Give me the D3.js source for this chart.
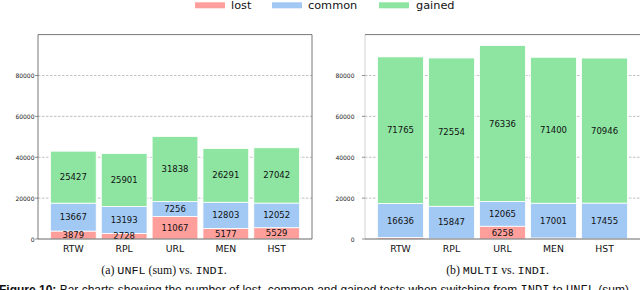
<!DOCTYPE html>
<html><head><meta charset="utf-8">
<script src="https://cdn.jsdelivr.net/npm/d3@7"></script>
<style>body{margin:0;background:#fff;overflow:hidden}svg{display:block}</style>
</head><body>
<svg id="c" width="640" height="290"></svg>
<script>
const categories = ["RTW", "RPL", "URL", "MEN", "HST"];
const seriesNames = ["lost", "common", "gained"];
const lostA = [3879, 2728, 11067, 5177, 5529];
const commonA = [13667, 13193, 7256, 12803, 12052];
const gainedA = [25427, 25901, 31838, 26291, 27042];
const lostB = [700, 150, 6258, 500, 120];
const commonB = [16636, 15847, 12065, 17001, 17455];
const gainedB = [71765, 72554, 76336, 71400, 70946];
const yTicks = [0, 20000, 40000, 60000, 80000];
const colors = {lost: "#ff9f9b", common: "#a1c9f4", gained: "#8de5a1"};

const svg = d3.select("#c");

function panel(opts) {
  const {x0, x1, yTop, yBot, data, labelRight, leftSpineColor, rightSpine} = opts;
  const g = svg.append("g");
  const x = d3.scaleBand().domain(categories).range([x0, x1]).paddingInner(0.1).paddingOuter(0.245);
  const y = d3.scaleLinear().domain([0, 100000]).range([yBot, yTop]);
  g.selectAll(".grid").data(yTicks.slice(1)).join("line")
    .attr("x1", x0).attr("x2", x1).attr("y1", d => y(d)).attr("y2", d => y(d))
    .attr("stroke", "#b0b0b0").attr("stroke-width", 0.8).attr("stroke-dasharray", "2.5,1.5");
  const rows = categories.map((c, i) => ({cat: c, lost: data[0][i], common: data[1][i], gained: data[2][i]}));
  const stack = d3.stack().keys(seriesNames)(rows);
  stack.forEach(s => {
    g.selectAll(null).data(s).join("rect")
      .attr("x", d => x(d.data.cat)).attr("width", x.bandwidth())
      .attr("y", d => y(d[1])).attr("height", d => y(d[0]) - y(d[1]))
      .attr("fill", colors[s.key]).attr("stroke", "#fff").attr("stroke-width", 0.8);
  });
  stack.forEach(s => {
    g.selectAll(null).data(s.filter(d => d[1] - d[0] > 2000)).join("text")
      .attr("x", d => x(d.data.cat) + x.bandwidth() / 2)
      .attr("y", d => y((d[0] + d[1]) / 2))
      .attr("text-anchor", "middle").attr("dominant-baseline", "central")
      .attr("font-family", "DejaVu Sans").attr("font-size", 8.5).attr("fill", "#111")
      .text(d => d[1] - d[0]);
  });
  g.append("line").attr("x1", x0).attr("x2", x0).attr("y1", yTop).attr("y2", yBot).attr("stroke", leftSpineColor).attr("stroke-width", 0.8);
  g.append("line").attr("x1", x0).attr("x2", x1).attr("y1", yTop).attr("y2", yTop).attr("stroke", "#555").attr("stroke-width", 0.8);
  g.append("line").attr("x1", x0).attr("x2", x1).attr("y1", yBot).attr("y2", yBot).attr("stroke", "#555").attr("stroke-width", 0.9);
  if (rightSpine) g.append("line").attr("x1", x1).attr("x2", x1).attr("y1", yTop).attr("y2", yBot).attr("stroke", "#555").attr("stroke-width", 0.8);
  g.selectAll(".yt").data(yTicks).join("line")
    .attr("x1", x0 - 3).attr("x2", x0).attr("y1", d => y(d)).attr("y2", d => y(d))
    .attr("stroke", "#444").attr("stroke-width", 0.6);
  g.selectAll(".yl").data(yTicks).join("text")
    .attr("x", labelRight).attr("y", d => y(d)).attr("text-anchor", "end").attr("dominant-baseline", "central")
    .attr("font-family", "DejaVu Sans").attr("font-size", 6).attr("fill", "#222").text(d => d);
  g.selectAll(".xl").data(categories).join("text")
    .attr("x", d => x(d) + x.bandwidth() / 2).attr("y", yBot + 12.5).attr("text-anchor", "middle")
    .attr("font-family", "DejaVu Sans").attr("font-size", 9.3).attr("fill", "#111").text(d => d);
}

panel({x0: 38, x1: 312, yTop: 34.6, yBot: 239, data: [lostA, commonA, gainedA], labelRight: 34.5, leftSpineColor: "#555", rightSpine: true});
panel({x0: 365, x1: 640, yTop: 34.6, yBot: 239, data: [lostB, commonB, gainedB], labelRight: 354.5, leftSpineColor: "#c8c8c8", rightSpine: false});

const legX = [{k: "lost", px: 195, tx: 231}, {k: "common", px: 272, tx: 308}, {k: "gained", px: 379, tx: 416}];
const leg = svg.append("g");
leg.selectAll("rect").data(legX).join("rect").attr("x", d => d.px).attr("y", 2.3).attr("width", 30).attr("height", 6).attr("fill", d => colors[d.k]);
leg.selectAll("text").data(legX).join("text").attr("x", d => d.tx).attr("y", 9)
  .attr("font-family", "DejaVu Sans").attr("font-size", 11.3).attr("fill", "#111").text(d => d.k);

function caption(cx, parts) {
  const t = svg.append("text").attr("x", cx).attr("y", 274).attr("text-anchor", "middle").attr("font-size", 11.8).attr("fill", "#111");
  parts.forEach(p => t.append("tspan").attr("font-family", p[1] ? "Liberation Mono" : "Liberation Serif").text(p[0]));
}
caption(164, [["(a) ", false], ["UNFL", true], [" (sum) vs. ", false], ["INDI", true], [".", false]]);
caption(497.5, [["(b) ", false], ["MULTI", true], [" vs. ", false], ["INDI", true], [".", false]]);

const f = svg.append("text").attr("x", -1).attr("y", 294).attr("font-family", "Liberation Sans").attr("font-size", 12).attr("fill", "#111");
f.append("tspan").attr("font-weight", "bold").text("Figure 10: ");
f.append("tspan").text("Bar charts showing the number of lost, common and gained tests when switching from ");
f.append("tspan").attr("font-family", "Liberation Mono").text("INDI");
f.append("tspan").text(" to ");
f.append("tspan").attr("font-family", "Liberation Mono").text("UNFL");
f.append("tspan").text(" (sum)");
</script>
</body></html>
